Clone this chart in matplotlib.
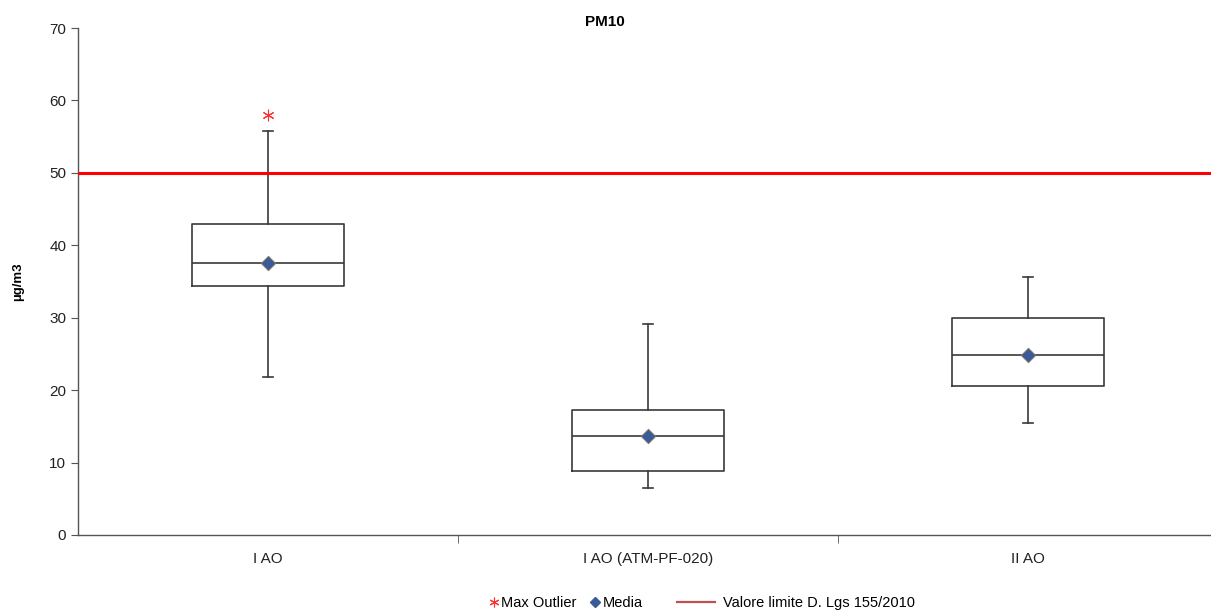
import matplotlib
matplotlib.use("Agg")
import matplotlib.pyplot as plt
from matplotlib.lines import Line2D

plt.rcParams['font.family'] = ['Liberation Sans', 'DejaVu Sans']

categories = ["I AO", "I AO (ATM-PF-020)", "II AO"]
whisker_low = [21.8, 6.5, 15.4]
q1 = [34.4, 8.9, 20.6]
median = [37.5, 13.7, 24.9]
q3 = [42.9, 17.3, 29.9]
whisker_high = [55.8, 29.1, 35.6]
mean = [37.5, 13.7, 24.9]
max_outlier = [58.0, None, None]
limit_value = 50
limit_label = "Valore limite D. Lgs 155/2010"

W, H = 1211, 612
fig = plt.figure(figsize=(W / 100, H / 100), dpi=100)
left, right = 78 / W, 1.0
bottom, top = 1 - 535 / H, 1 - 28 / H
ax = fig.add_axes([left, bottom, right - left, top - bottom])

stats = []
for i, c in enumerate(categories):
    stats.append(dict(label=c, whislo=whisker_low[i], q1=q1[i], med=median[i],
                      q3=q3[i], whishi=whisker_high[i], mean=mean[i], fliers=[]))

pos = list(range(1, len(categories) + 1))
lc = '#3a3a3a'
ax.bxp(stats, positions=pos, widths=0.4, showmeans=False, showfliers=False,
       boxprops=dict(color=lc, linewidth=1.2),
       medianprops=dict(color=lc, linewidth=1.2),
       whiskerprops=dict(color=lc, linewidth=1.2),
       capprops=dict(color=lc, linewidth=1.2), capwidths=0.025)

ax.scatter(pos, mean, marker='D', s=55, color='#3b5a98', edgecolors='#8a7a6a',
           linewidths=0.6, zorder=5)
ox = [p for p, v in zip(pos, max_outlier) if v is not None]
oy = [v for v in max_outlier if v is not None]
ax.scatter(ox, oy, marker=(6, 2, 0), s=60, color='#ff3030', linewidths=0.8, zorder=5)

ax.axhline(limit_value, color='#ff0000', linewidth=2.2, zorder=4)

xspan = (W - 78) / 380
ax.set_xlim(0.5, 0.5 + xspan)
ax.set_ylim(0, 70)
ax.set_yticks(range(0, 71, 10))
ax.tick_params(axis='y', labelsize=11, direction='out', length=5, color='#555555', labelcolor='#222222')

ax.set_xticks(pos)
ax.set_xticklabels(categories)
ax.tick_params(axis='x', which='major', length=0, labelsize=11, pad=12, labelcolor='#222222')
ax.set_xticks([1.5, 2.5], minor=True)
ax.tick_params(axis='x', which='minor', length=6, direction='out', color='#555555')

for s in ['top', 'right']:
    ax.spines[s].set_visible(False)
for s in ['left', 'bottom']:
    ax.spines[s].set_color('#555555')
    ax.spines[s].set_linewidth(1.0)

fig.text(605 / W, 1 - 22 / H, "PM10", ha='center', va='center', fontsize=11, fontweight='bold')
fig.text(18 / W, 1 - 282 / H, "µg/m3", ha='center', va='center', rotation=90,
         fontsize=9.5, fontweight='bold')

h1 = [
    Line2D([], [], linestyle='none', marker=(6, 2, 0), color='#ff3030', markersize=7,
           markeredgewidth=0.8),
    Line2D([], [], linestyle='none', marker='D', color='#3b5a98', markersize=5),
]
leg1 = fig.legend(h1, ["Max Outlier", "Media"], loc='center',
                  bbox_to_anchor=(566 / W, 1 - 603 / H), ncol=2, frameon=False, fontsize=10.5,
                  handlelength=0.6, handletextpad=0.2, columnspacing=1.0)
h2 = [Line2D([], [], color='#c0504d', linewidth=1.6)]
leg2 = fig.legend(h2, [limit_label], loc='center',
                  bbox_to_anchor=(796 / W, 1 - 603 / H), frameon=False, fontsize=10.5,
                  handlelength=2.6, handletextpad=0.5)

fig.savefig("out.png", dpi=100)
